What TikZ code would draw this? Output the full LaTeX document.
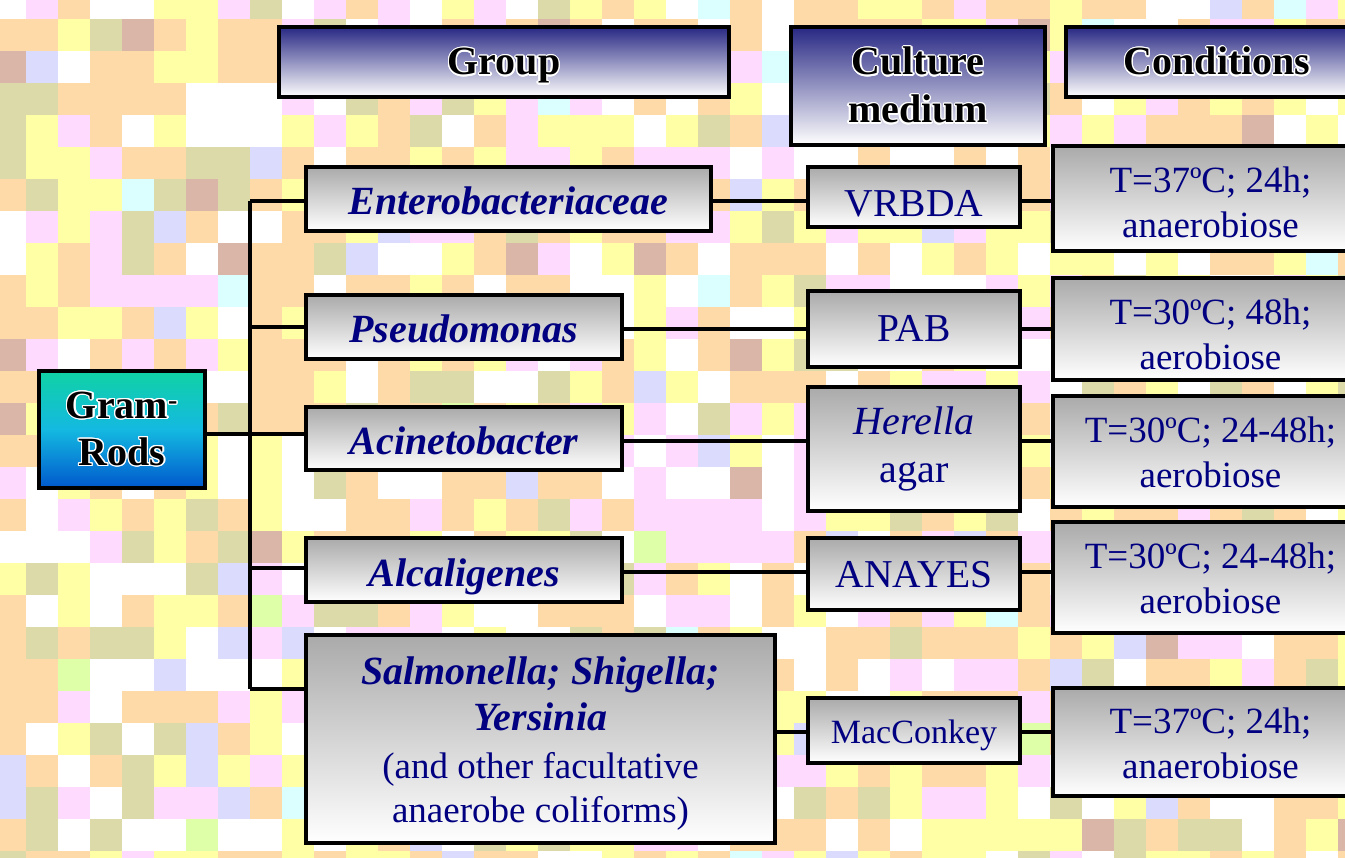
\documentclass[tikz,border=0pt]{standalone}
\usepackage{fontspec}
\setmainfont{Liberation Serif}
\usepackage[copies]{contour}
\contourlength{1.3pt}
\contournumber{16}
\definecolor{navytext}{RGB}{0,0,128}
\definecolor{htop}{RGB}{40,40,132}
\definecolor{gtop}{RGB}{170,170,170}
\definecolor{teal1}{RGB}{16,210,165}
\definecolor{cyan1}{RGB}{20,185,225}
\definecolor{blue1}{RGB}{0,88,205}
\definecolor{tpeach}{RGB}{254,218,168}
\definecolor{tyellow}{RGB}{255,255,166}
\definecolor{tpink}{RGB}{254,218,254}
\definecolor{tkhaki}{RGB}{220,218,168}
\definecolor{tlav}{RGB}{219,219,254}
\definecolor{tcyan}{RGB}{219,255,255}
\definecolor{trose}{RGB}{218,182,168}
\definecolor{tgreen}{RGB}{222,254,168}
\tikzset{
  box/.style={draw=black, line width=3.6pt, inner sep=0pt, align=center, text=navytext},
  graybox/.style={box, top color=gtop, bottom color=white},
  headbox/.style={box, top color=htop, bottom color=white, text=black,
    font=\bfseries\fontsize{40}{48}\selectfont},
  grambox/.style={box, top color=teal1, bottom color=blue1, middle color=cyan1, text=black,
    font=\bfseries\fontsize{40}{47}\selectfont},
  grp/.style={graybox, font=\bfseries\itshape\fontsize{40}{46}\selectfont},
  oneline/.style={text height=#1, text depth=0pt},
  med/.style={graybox, minimum width=212pt, font=\fontsize{39.5}{48}\selectfont},
  cond/.style={graybox, minimum width=315pt, font=\fontsize{37}{45}\selectfont},
  conn/.style={draw=black, line width=3.1pt}
}
\newcommand{\gl}[1]{\contour{white}{#1}}
\begin{document}
\begin{tikzpicture}[x=1pt, y=-1pt]
\useasboundingbox (0,0) rectangle (1345,858);
% mosaic background
\fill[white] (0,0) rectangle (1345,858);
\pgfmathsetseed{4711}
\foreach \i in {0,...,42}{
  \foreach \j in {0,...,27}{
    \pgfmathrandominteger{\r}{1}{200}
    \ifnum\r<58 \def\tc{tpeach}\else
    \ifnum\r<96 \def\tc{tyellow}\else
    \ifnum\r<136 \def\tc{white}\else
    \ifnum\r<166 \def\tc{tpink}\else
    \ifnum\r<186 \def\tc{tkhaki}\else
    \ifnum\r<193 \def\tc{tlav}\else
    \ifnum\r<196 \def\tc{tcyan}\else
    \ifnum\r<199 \def\tc{trose}\else \def\tc{tgreen}\fi\fi\fi\fi\fi\fi\fi\fi
    \fill[fill=\tc] (\i*32-6, \j*32-13) rectangle ++(32,32);
  }
}
% headers
\node[headbox, oneline=26pt, minimum width=450pt, minimum height=70pt] (hgroup) at (504,62) {\gl{Group}};
\node[headbox, minimum width=254pt, minimum height=118pt] (hmed) at (918,86) {\gl{Culture}\\\gl{medium}};
\node[headbox, oneline=26pt, minimum width=302pt, minimum height=70pt] (hcond) at (1217,62) {\gl{Conditions}};
% root
\node[grambox, minimum width=166pt, minimum height=117pt] (gram) at (122,429.5) {\gl{Gram\textsuperscript{-}}\\\gl{Rods}};
% groups
\node[grp, oneline=32pt, minimum width=405pt, minimum height=64pt] (ent) at (508.5,199) {Enterobacteriaceae};
\node[grp, oneline=32pt, minimum width=316pt, minimum height=64pt] (pse) at (464,327) {Pseudomonas};
\node[grp, oneline=32pt, minimum width=316pt, minimum height=63pt] (aci) at (464,438.5) {Acinetobacter};
\node[grp, oneline=32pt, minimum width=316pt, minimum height=64pt] (alc) at (464,570) {Alcaligenes};
\node[grp, minimum width=469pt, minimum height=208pt] (sal) at (540.5,739)
  {\rule{0pt}{37pt}Salmonella; Shigella;\\Yersinia\\[2pt]{\normalfont\fontsize{37}{44}\selectfont (and other facultative}\\[-2pt]{\normalfont\fontsize{37}{44}\selectfont anaerobe coliforms)}};
% media
\node[med, oneline=40pt, minimum height=60pt] (vrb) at (914,197) {VRBDA};
\node[med, oneline=26pt, minimum height=76pt] (pab) at (914,329) {PAB};
\node[med, minimum height=124pt, font=\fontsize{40}{48}\selectfont] (her) at (914,449) {\textit{Herella}\\agar};
\node[med, oneline=26pt, minimum height=72pt] (ana) at (914,574) {ANAYES};
\node[med, oneline=25pt, minimum height=65pt, font=\fontsize{34}{40}\selectfont] (mac) at (914,730.5) {MacConkey};
% conditions
\node[cond, minimum height=105pt] (c1) at (1210.5,198.5) {\rule{0pt}{34pt}T=37ºC; 24h;\\anaerobiose};
\node[cond, minimum height=102pt] (c2) at (1210.5,329) {\rule{0pt}{37pt}T=30ºC; 48h;\\aerobiose};
\node[cond, minimum height=111pt] (c3) at (1210.5,451.5) {\rule{0pt}{28pt}T=30ºC; 24-48h;\\aerobiose};
\node[cond, minimum height=111pt] (c4) at (1210.5,577.5) {\rule{0pt}{28pt}T=30ºC; 24-48h;\\aerobiose};
\node[cond, minimum height=108pt] (c5) at (1210.5,742) {\rule{0pt}{28pt}T=37ºC; 24h;\\anaerobiose};
% levels
\coordinate (tr) at (250,0);
\coordinate (y1) at (0,201);
\coordinate (y2) at (0,327);
\coordinate (y3) at (0,434);
\coordinate (y4) at (0,568);
\coordinate (y5) at (0,689);
\coordinate (m1) at (0,201);
\coordinate (m2) at (0,329);
\coordinate (m3) at (0,441);
\coordinate (m4) at (0,572);
\coordinate (m5) at (0,732);
% tree
\draw[conn] (tr |- y1) -- (tr |- y5);
\draw[conn] (gram.east |- y3) -- (aci.west |- y3);
\draw[conn] (tr |- y1) -- (ent.west |- y1);
\draw[conn] (tr |- y2) -- (pse.west |- y2);
\draw[conn] (tr |- y4) -- (alc.west |- y4);
\draw[conn] (tr |- y5) -- (sal.west |- y5);
% group -> medium
\draw[conn] (ent.east |- m1) -- (vrb.west |- m1);
\draw[conn] (pse.east |- m2) -- (pab.west |- m2);
\draw[conn] (aci.east |- m3) -- (her.west |- m3);
\draw[conn] (alc.east |- m4) -- (ana.west |- m4);
\draw[conn] (sal.east |- m5) -- (mac.west |- m5);
% medium -> conditions
\draw[conn] (vrb.east |- m1) -- (c1.west |- m1);
\draw[conn] (pab.east |- m2) -- (c2.west |- m2);
\draw[conn] (her.east |- m3) -- (c3.west |- m3);
\draw[conn] (ana.east |- m4) -- (c4.west |- m4);
\draw[conn] (mac.east |- m5) -- (c5.west |- m5);
\end{tikzpicture}
\end{document}
